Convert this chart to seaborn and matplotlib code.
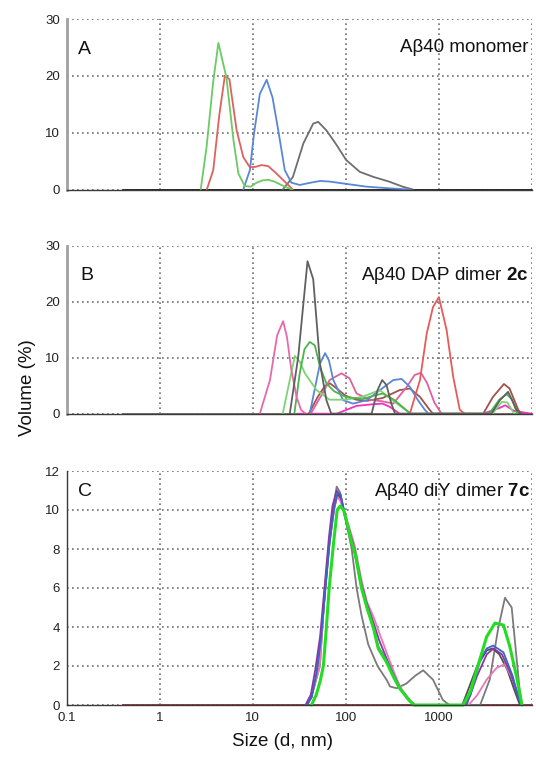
import matplotlib
matplotlib.use("Agg")
import matplotlib.pyplot as plt
from matplotlib.ticker import LogLocator, NullFormatter, FixedLocator
import seaborn as sns
import pandas as pd

# ---------------- data (size in nm, volume %) ----------------
# Panel A : Abeta40 monomer
A_base_size = [0.4, 10000]
A_base_vol = [0, 0]
A_green_size = [2.75, 3.18, 3.75, 4.26, 5.2, 6.2, 7.0, 8.2, 9.5, 11.0, 12.7, 14.7, 17.0, 19.7, 22.8, 26.4]
A_green_vol = [0, 7.5, 19, 25.8, 19.7, 8.6, 2.8, 0.6, 0.5, 1.2, 1.6, 1.7, 1.4, 0.9, 0.4, 0]
A_red_size = [3.2, 3.75, 4.35, 5.0, 5.6, 6.7, 7.9, 9.3, 10.8, 12.4, 14.7, 18.0, 23.0, 27.0]
A_red_vol = [0, 3.4, 13, 20.0, 19.4, 10.4, 5.7, 3.9, 4.0, 4.3, 4.1, 2.8, 1.1, 0]
A_blue_size = [7.9, 9.3, 10.3, 11.9, 14.1, 16.3, 18.8, 22.1, 26, 32, 42, 53, 67, 100, 168, 300, 490]
A_blue_vol = [0, 3.4, 9.8, 16.8, 19.3, 16.2, 10.4, 3.4, 1.2, 0.8, 1.2, 1.5, 1.4, 1.0, 0.5, 0.2, 0]
A_gray_size = [21, 27, 35, 44.7, 50.6, 62, 80, 101, 142, 200, 292, 410, 530]
A_gray_vol = [0, 2.2, 8.1, 11.6, 11.9, 10.4, 7.8, 5.2, 3.1, 2.2, 1.4, 0.5, 0]

# Panel B : Abeta40 DAP dimer 2c
B_base_size = [0.4, 10000]
B_base_vol = [0, 0]
B_pink_size = [11.9, 15.3, 18.3, 21.2, 23.3, 26, 29.6, 33, 37]
B_pink_vol = [0, 6, 14, 16.5, 13.7, 7.8, 3.0, 0.7, 0]
B_lgreen_size = [21, 25, 28.4, 32, 36.4, 48.6, 67, 100, 150, 233, 330, 500, 3800, 4800, 5500, 6500]
B_lgreen_vol = [0, 6, 10.3, 9.3, 7.2, 4.2, 2.5, 2.5, 3.0, 4.2, 2.2, 0, 0, 2.1, 2.0, 0]
B_green_size = [28, 32, 36, 41, 46.5, 53, 62, 75, 100, 150, 200, 250, 330, 500, 3500, 4500, 5400, 6200, 7000]
B_green_vol = [0, 7.2, 11.5, 12.8, 12.2, 8.3, 5.4, 4.0, 3.0, 2.6, 3.2, 3.6, 2.5, 0, 0, 2.5, 3.5, 2.5, 0]
B_gray_size = [25, 30.8, 38.8, 44.7, 52.9, 62, 70, 190, 220, 247, 275, 310, 340, 3700, 4570, 5600, 6900, 7600]
B_gray_vol = [0, 10.1, 27.2, 24, 8.9, 2.4, 0, 0, 4.2, 6.0, 5.1, 1.8, 0, 0, 2.4, 3.9, 0.7, 0]
B_blue_size = [41, 48.6, 53, 60, 66, 73.5, 94, 120, 168, 233, 325, 400, 490, 600, 710, 780]
B_blue_vol = [0, 6, 9, 10.8, 9.5, 6, 2.4, 1.8, 2.4, 4.2, 6.0, 6.2, 4.8, 2.4, 0.7, 0]
B_brown_size = [40, 50, 60, 68, 80, 100, 130, 170, 250, 380, 490, 630, 800, 870, 3020, 3850, 5050, 5800, 7200, 7700]
B_brown_vol = [0, 3, 5.0, 5.4, 4.5, 3.2, 2.5, 2.3, 2.8, 4.2, 4.5, 3.0, 0.7, 0, 0, 3.0, 5.3, 4.5, 0.7, 0]
B_rose_size = [42, 48.6, 58, 67, 90, 110, 131, 180, 250, 325, 455, 552, 645, 750, 900, 1075]
B_rose_vol = [0, 1.8, 4, 6, 7.2, 6.3, 3.6, 2.5, 2.2, 1.8, 4.8, 6.9, 7.3, 5.5, 2, 0]
B_red_size = [490, 630, 745, 870, 1007, 1220, 1435, 1690, 1900]
B_red_vol = [0, 6, 14.3, 19, 20.8, 14.9, 6.6, 0.7, 0]
B_magenta_size = [30, 80, 131, 200, 250, 300, 380, 3000, 4500, 5200, 6500, 10000]
B_magenta_vol = [0, 0, 1.4, 1.7, 1.8, 1.2, 0, 0, 1.0, 1.5, 0.5, 0]

# Panel C : Abeta40 diY dimer 7c
C_base_size = [0.4, 10000]
C_base_vol = [0, 0]
C_gray_size = [39, 45, 52.7, 59.6, 67, 75, 80, 87, 100, 116, 131, 148, 175, 220, 275, 300, 353, 450, 560, 683, 870, 1110, 1300, 2800, 3550, 4370, 5180, 6120, 7450, 7900]
C_gray_vol = [0, 0.8, 2.0, 5.8, 8.5, 10.4, 11.2, 10.9, 9.5, 8.0, 6.0, 4.6, 3.1, 2.0, 1.3, 0.95, 0.86, 1.1, 1.5, 1.78, 1.3, 0.26, 0, 0, 1.3, 3.9, 5.5, 5.0, 0.78, 0]
C_dgray_size = [38, 43, 48, 54, 60, 67, 75, 82, 88, 100, 116, 126, 148, 169, 200, 224, 275, 330, 381, 490, 550, 1800, 2600, 3300, 3800, 4500, 5500, 6500, 7500]
C_dgray_vol = [0, 0.4, 1.5, 3.3, 5.8, 8.3, 10.1, 10.8, 10.6, 9.5, 8.3, 7.7, 6.0, 5.0, 3.9, 2.9, 2.2, 1.4, 0.85, 0.2, 0, 0, 2.0, 2.8, 2.9, 2.6, 1.8, 0.8, 0]
C_blue_size = [38, 43, 48, 54, 60, 67, 75, 82, 88, 100, 116, 126, 148, 169, 200, 224, 275, 330, 381, 490, 550, 1900, 2200, 2800, 3300, 3860, 4990, 6300, 7000, 7700]
C_blue_vol = [0, 0.4, 1.5, 3.3, 5.8, 8.3, 10.1, 10.9, 10.8, 9.6, 8.4, 7.8, 6.1, 5.1, 4.0, 3.0, 2.3, 1.5, 0.9, 0.2, 0, 0, 0.5, 2.3, 2.9, 3.05, 2.7, 1.46, 0.6, 0]
C_purple_size = [37, 42, 47, 53, 59.6, 66, 72, 80, 88, 100, 116, 126, 148, 169, 200, 230, 275, 330, 381, 490, 550, 2000, 2600, 3300, 3900, 4800, 6000, 7000, 7800]
C_purple_vol = [0, 0.5, 1.8, 3.5, 6.2, 8.6, 10.2, 11.0, 10.7, 9.6, 8.5, 7.9, 6.2, 5.2, 4.2, 3.3, 2.4, 1.5, 0.9, 0.25, 0, 0, 1.5, 2.6, 2.9, 2.6, 1.6, 0.6, 0]
C_pink_size = [37, 45, 52.7, 59.6, 67, 75.3, 80, 87, 100, 116, 126, 148, 169, 200, 230, 275, 330, 381, 450, 550, 2100, 2600, 3290, 4200, 5180, 6300, 7300, 7900]
C_pink_vol = [0, 0.8, 2.0, 6.0, 8.5, 10.0, 10.7, 10.5, 9.7, 8.7, 8.1, 6.4, 5.3, 4.5, 3.7, 2.7, 1.7, 1.0, 0.35, 0, 0, 0.5, 1.3, 1.9, 2.1, 1.3, 0.5, 0]
C_green_size = [42.8, 48, 53, 57.5, 62, 66.4, 74, 81, 87, 95, 105, 116, 126, 148, 169, 200, 224, 275, 330, 381, 490, 550, 1840, 2200, 2570, 3290, 4040, 4990, 5840, 6900, 7900]
C_green_vol = [0, 0.5, 1.2, 2.0, 4.0, 6.0, 8.3, 10.0, 10.2, 10.0, 9.2, 8.3, 7.8, 6.0, 5.0, 3.9, 2.9, 2.2, 1.4, 0.85, 0.2, 0, 0, 0.7, 1.8, 3.5, 4.2, 4.1, 3.0, 1.46, 0]

# ---------------- styling ----------------
sns.set_theme(style="white")
plt.rcParams["font.family"] = ["Liberation Sans", "DejaVu Sans"]
plt.rcParams["mathtext.fontset"] = "custom"
plt.rcParams["mathtext.rm"] = "Liberation Sans"
plt.rcParams["mathtext.bf"] = "Liberation Sans:bold"

W, H = 536, 758
fig = plt.figure(figsize=(W / 100, H / 100), dpi=100)


def px_axes(top, bottom, left=67, right=531.5):
    return fig.add_axes([left / W, 1 - bottom / H, (right - left) / W, (bottom - top) / H])


def make_df(series):
    rows = []
    for name, sz, vl in series:
        for s, v in zip(sz, vl):
            rows.append({"size": s, "vol": v, "series": name})
    return pd.DataFrame(rows)


def style_axes(ax, ymax, ymajor, yminor, left_spine_color, left_lw, xlabels):
    ax.set_xscale("log")
    ax.set_xlim(0.1, 10000)
    ax.set_ylim(0, ymax)
    ax.xaxis.set_major_locator(FixedLocator([0.1, 1, 10, 100, 1000, 10000]))
    ax.xaxis.set_minor_locator(LogLocator(base=10, subs=range(2, 10), numticks=20))
    ax.xaxis.set_minor_formatter(NullFormatter())
    ax.yaxis.set_major_locator(FixedLocator(ymajor))
    ax.yaxis.set_minor_locator(FixedLocator(yminor))
    ax.grid(True, which="major", linestyle=(0, (1, 2)), color="#6e6e6e", linewidth=1.2)
    ax.set_axisbelow(True)
    for s in ["top", "right"]:
        ax.spines[s].set_visible(False)
    ax.spines["left"].set_color(left_spine_color)
    ax.spines["left"].set_linewidth(left_lw)
    ax.spines["bottom"].set_color("#3a3a3a")
    ax.spines["bottom"].set_linewidth(1.0)
    ax.tick_params(axis="both", which="both", direction="inout", colors="#3a3a3a",
                   labelcolor="#222222", labelsize=9.5, width=0.8)
    ax.tick_params(axis="both", which="major", length=5, pad=2.5)
    ax.tick_params(axis="both", which="minor", length=4)
    ax.set_yticklabels([str(v) for v in ymajor])
    if xlabels:
        ax.set_xticklabels(["0.1", "1", "10", "100", "1000", ""])
    else:
        ax.set_xticklabels([])
    ax.set_xlabel("")
    ax.set_ylabel("")
    for ln in ax.lines:
        ln.set_clip_on(False)


def draw(ax, series, palette, lw=1.3):
    df = make_df(series)
    order = [s[0] for s in series]
    sns.lineplot(data=df, x="size", y="vol", hue="series", hue_order=order,
                 palette=palette, estimator=None, sort=False, legend=False,
                 linewidth=lw, ax=ax)


# Panel A
axA = px_axes(19, 189.5)
draw(axA, [
    ("base", A_base_size, A_base_vol),
    ("gray", A_gray_size, A_gray_vol),
    ("blue", A_blue_size, A_blue_vol),
    ("red", A_red_size, A_red_vol),
    ("green", A_green_size, A_green_vol),
], {"base": "#1a1a1a", "gray": "#6e6e6e", "blue": "#5a86d6", "red": "#e0605c", "green": "#6acb62"})
style_axes(axA, 30, [0, 10, 20, 30], [5, 15, 25], "#a0a0a0", 2.0, False)

# Panel B
axB = px_axes(245.5, 413.7)
draw(axB, [
    ("base", B_base_size, B_base_vol),
    ("magenta", B_magenta_size, B_magenta_vol),
    ("brown", B_brown_size, B_brown_vol),
    ("rose", B_rose_size, B_rose_vol),
    ("blue", B_blue_size, B_blue_vol),
    ("lgreen", B_lgreen_size, B_lgreen_vol),
    ("green", B_green_size, B_green_vol),
    ("pink", B_pink_size, B_pink_vol),
    ("red", B_red_size, B_red_vol),
    ("gray", B_gray_size, B_gray_vol),
], {"base": "#7a6c66", "magenta": "#f030c0", "brown": "#a0524c", "rose": "#e0609e",
    "blue": "#5a86d6", "lgreen": "#7cd474", "green": "#4cb44c", "pink": "#e868ac",
    "red": "#e85a5a", "gray": "#606060"})
style_axes(axB, 30, [0, 10, 20, 30], [5, 15, 25], "#a0a0a0", 2.0, False)

# Panel C
axC = px_axes(471, 705)
draw(axC, [
    ("base", C_base_size, C_base_vol),
    ("gray", C_gray_size, C_gray_vol),
    ("dgray", C_dgray_size, C_dgray_vol),
    ("pink", C_pink_size, C_pink_vol),
    ("purple", C_purple_size, C_purple_vol),
    ("blue", C_blue_size, C_blue_vol),
], {"base": "#a8283c", "gray": "#7a7a7a", "dgray": "#505050", "pink": "#e878b8",
    "purple": "#8a38a0", "blue": "#3e62c8"})
draw(axC, [("green", C_green_size, C_green_vol)], {"green": "#22dd22"}, lw=2.2)
style_axes(axC, 12, [0, 2, 4, 6, 8, 10, 12], [1, 3, 5, 7, 9, 11], "#3a3a3a", 1.0, True)

# ---------------- texts ----------------
def ftext(x, y, s, **kw):
    fig.text(x / W, 1 - y / H, s, **kw)


ftext(78, 50, "A", ha="left", va="center", fontsize=14, color="#111111")
ftext(80, 276, "B", ha="left", va="center", fontsize=14, color="#111111")
ftext(78, 491, "C", ha="left", va="center", fontsize=14, color="#111111")
ftext(528, 48, "Aβ40 monomer", ha="right", va="center", fontsize=13.5, color="#111111")
ftext(529, 275, r"Aβ40 DAP dimer $\mathbf{2c}$", ha="right", va="center", fontsize=13.5, color="#111111")
ftext(530, 491, r"Aβ40 diY dimer $\mathbf{7c}$", ha="right", va="center", fontsize=13.5, color="#111111")
ftext(28, 388, "Volume (%)", rotation=90, ha="center", va="center", fontsize=13.5, color="#111111")
ftext(283, 742, "Size (d, nm)", ha="center", va="center", fontsize=13.5, color="#111111")

fig.savefig("out.png", dpi=100)
